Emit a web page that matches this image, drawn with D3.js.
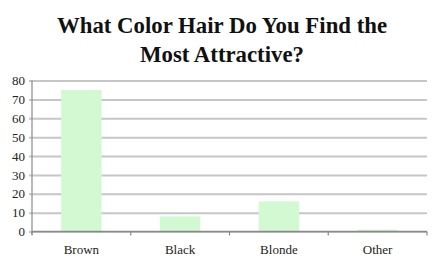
<!DOCTYPE html>
<html>
<head>
<meta charset="utf-8">
<script src="https://cdn.jsdelivr.net/npm/d3@7"></script>
<style>
  body { margin: 0; background: #fff; }
  svg { display: block; }
</style>
</head>
<body>
<div id="chart"></div>
<script>
// Chart data
const categories = ["Brown", "Black", "Blonde", "Other"];
const values = [75, 8, 16, 1];
const yTicks = [0, 10, 20, 30, 40, 50, 60, 70, 80];
const titleLines = ["What Color Hair Do You Find the", "Most Attractive?"];

const width = 442, height = 262;
const margin = { top: 80.5, right: 15, bottom: 30.5, left: 32 };

const svg = d3.select("#chart")
    .append("svg")
    .attr("width", width)
    .attr("height", height);

const x = d3.scaleBand()
    .domain(categories)
    .range([margin.left, width - margin.right])
    .paddingInner(0.59)
    .paddingOuter(0.295);

const y = d3.scaleLinear()
    .domain([0, 80])
    .range([height - margin.bottom, margin.top]);

// Title
svg.append("g")
    .selectAll("text")
    .data(titleLines)
    .enter()
    .append("text")
    .attr("x", 222)
    .attr("y", (d, i) => 33 + i * 28.5)
    .attr("text-anchor", "middle")
    .attr("font-family", "Liberation Serif")
    .attr("font-weight", "bold")
    .attr("font-size", "22.8px")
    .attr("fill", "#111")
    .text(d => d);

// Gridlines + y labels
const yAxis = d3.axisLeft(y)
    .tickValues(yTicks)
    .tickSize(-(width - margin.left - margin.right))
    .tickPadding(7);

const yg = svg.append("g")
    .attr("transform", `translate(${margin.left},0)`)
    .call(yAxis);
yg.select(".domain").remove();
yg.selectAll(".tick line")
    .attr("x1", -3)
    .attr("stroke", "#c6c6c6")
    .attr("stroke-width", 2);
yg.selectAll(".tick text")
    .attr("font-family", "Liberation Serif")
    .attr("font-size", "13px")
    .attr("fill", "#222");

// Bars
svg.append("g")
    .selectAll("rect")
    .data(values)
    .enter()
    .append("rect")
    .attr("x", (d, i) => x(categories[i]))
    .attr("y", d => y(d))
    .attr("width", x.bandwidth())
    .attr("height", d => y(0) - y(d))
    .attr("fill", "#d3f9d3");

// Vertical axis line
svg.append("line")
    .attr("x1", margin.left).attr("x2", margin.left)
    .attr("y1", y(80)).attr("y2", y(0) + 3)
    .attr("stroke", "#8a8a8a")
    .attr("stroke-width", 1.2);

// X axis with boundary ticks
const step = x.step();
const boundaries = d3.range(categories.length + 1).map(i => margin.left + i * step);
const xg = svg.append("g");
xg.append("line")
    .attr("x1", margin.left).attr("x2", width - margin.right)
    .attr("y1", y(0)).attr("y2", y(0))
    .attr("stroke", "#8a8a8a")
    .attr("stroke-width", 1.5);
xg.selectAll("line.tk")
    .data(boundaries)
    .enter()
    .append("line")
    .attr("class", "tk")
    .attr("x1", d => d).attr("x2", d => d)
    .attr("y1", y(0)).attr("y2", y(0) + 4)
    .attr("stroke", "#8a8a8a")
    .attr("stroke-width", 1.2);
xg.selectAll("text")
    .data(categories)
    .enter()
    .append("text")
    .attr("x", d => x(d) + x.bandwidth() / 2)
    .attr("y", 254)
    .attr("text-anchor", "middle")
    .attr("font-family", "Liberation Serif")
    .attr("font-size", "13px")
    .attr("fill", "#222")
    .text(d => d);
</script>
</body>
</html>
